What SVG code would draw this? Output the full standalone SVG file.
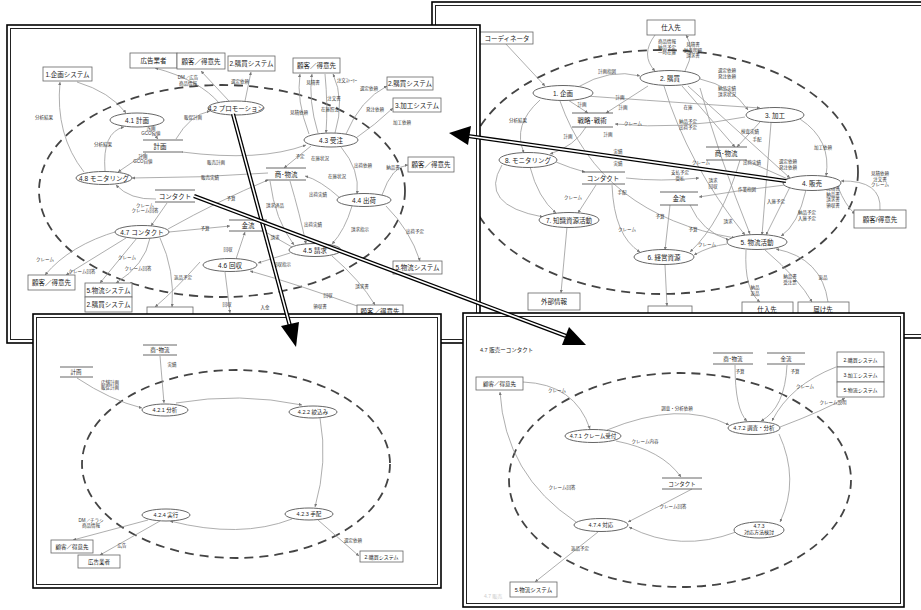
<svg xmlns="http://www.w3.org/2000/svg" width="921" height="610" viewBox="0 0 921 610">
<defs>
<style>
.fr{fill:#fff;stroke:#000;stroke-width:1.6}
.fi{fill:none;stroke:#222;stroke-width:1}
.dash{fill:none;stroke:#444;stroke-width:1.8;stroke-dasharray:9 6}
.c{fill:none;stroke:#999;stroke-width:0.8;marker-end:url(#a)}
.n{fill:#fff;stroke:#666;stroke-width:1}
.b{fill:#fff;stroke:#666;stroke-width:0.8}
.st{stroke:#555;stroke-width:0.9}
text{font-family:"Liberation Sans","Noto Sans CJK JP",sans-serif;fill:#222}
.t{font-size:6.5px;text-anchor:middle}
.s{font-size:4.5px;text-anchor:middle;fill:#333}
.big{fill:none;stroke:#000;stroke-width:4.2}
.bigw{fill:none;stroke:#fff;stroke-width:1.6}
</style>
<marker id="a" viewBox="0 0 6 6" refX="6" refY="3" markerWidth="4" markerHeight="4" orient="auto"><path d="M0,0L6,3L0,6z" fill="#777"/></marker>
</defs>

<!-- ===== Top-right panel ===== -->
<g id="panel-tr">
<rect class="fr" x="432" y="2" width="495" height="336"/>
<rect class="fi" x="435.5" y="5.5" width="488" height="329"/>
<ellipse class="dash" cx="662" cy="172" rx="196" ry="122"/>
</g>
<g id="tr-connectors">
<path class="c" d="M505,43 L545,86"/>
<path class="c" d="M578,87 Q610,68 640,76"/>
<path class="c" d="M568,100 L588,113"/>
<path class="c" d="M648,86 L606,113"/>
<path class="c" d="M745,117 Q680,130 615,124"/>
<path class="c" d="M540,100 Q512,125 524,153"/>
<path class="c" d="M586,127 Q575,146 550,154"/>
<path class="c" d="M502,165 Q478,205 543,217"/>
<path class="c" d="M530,167 Q538,198 556,213"/>
<path class="c" d="M556,162 Q570,168 585,172"/>
<path class="c" d="M596,185 L578,213"/>
<path class="c" d="M612,185 Q614,236 640,252"/>
<path class="c" d="M567,227 L561,293"/>
<path class="c" d="M655,35 Q640,55 655,71"/>
<path class="c" d="M685,71 Q696,50 686,35"/>
<path class="c" d="M700,79 Q732,86 748,110"/>
<path class="c" d="M682,86 L735,147"/>
<path class="c" d="M688,86 L790,178"/>
<path class="c" d="M664,86 Q688,165 745,235"/>
<path class="c" d="M560,101 Q600,215 735,238"/>
<path class="c" d="M545,93 Q640,100 760,108"/>
<path class="c" d="M760,122 L737,147"/>
<path class="c" d="M800,119 Q832,140 826,176"/>
<path class="c" d="M771,123 L762,235"/>
<path class="c" d="M745,160 L790,180"/>
<path class="c" d="M838,187 Q845,205 855,214"/>
<path class="c" d="M880,210 Q882,180 841,181"/>
<path class="c" d="M806,190 Q798,225 781,236"/>
<path class="c" d="M790,187 L766,235"/>
<path class="c" d="M785,185 Q740,190 699,197"/>
<path class="c" d="M670,205 L665,250"/>
<path class="c" d="M690,205 Q702,232 729,240"/>
<path class="c" d="M746,250 Q744,290 760,302"/>
<path class="c" d="M765,250 Q800,280 812,302"/>
<path class="c" d="M828,302 Q822,258 776,249"/>
<path class="c" d="M665,265 L667,306"/>
<path class="c" d="M727,244 Q710,246 694,255"/>
<path class="c" d="M740,160 Q722,222 690,252"/>
<path class="c" d="M626,178 Q660,182 699,178"/>
<path class="c" d="M700,88 Q720,160 750,234"/>
</g>
<g id="tr-labels">
<text class="s" x="607" y="73">計画指図</text>
<text class="s" x="582" y="106">計画</text>
<text class="s" x="620" y="99">計画</text>
<text class="s" x="623" y="109">計画</text>
<text class="s" x="633" y="125">クレーム</text>
<text class="s" x="608" y="136">計画</text>
<text class="s" x="518" y="122">分析結果</text>
<text class="s" x="568" y="138">計画</text>
<text class="s" x="618" y="153">実績</text>
<text class="s" x="618" y="165">実績</text>
<text class="s" x="573" y="199">クレーム</text>
<text class="s" x="622" y="194">手配</text>
<text class="s" x="627" y="231">クレーム</text>
<text class="s" x="667" y="43"><tspan x="667">商品情報</tspan><tspan x="667" dy="5.5">納品予定</tspan><tspan x="667" dy="5.5">一時在庫</tspan></text>
<text class="s" x="693" y="46"><tspan x="693">見積書</tspan><tspan x="693" dy="5.5">納品明細</tspan><tspan x="693" dy="5.5">請求書</tspan></text>
<text class="s" x="727" y="72"><tspan x="727">選定依頼</tspan><tspan x="727" dy="6">発注依頼</tspan></text>
<text class="s" x="727" y="90"><tspan x="727">納品実績</tspan><tspan x="727" dy="6">請求状況</tspan></text>
<text class="s" x="688" y="109">在庫</text>
<text class="s" x="688" y="123"><tspan x="688">納品予定</tspan><tspan x="688" dy="6">出荷予定</tspan></text>
<text class="s" x="750" y="133">検査実績</text>
<text class="s" x="757" y="141">手配</text>
<text class="s" x="823" y="149">加工依頼</text>
<text class="s" x="701" y="164">クレーム</text>
<text class="s" x="752" y="164">出荷実績</text>
<text class="s" x="788" y="163"><tspan x="788">選定依頼</tspan><tspan x="788" dy="5.5">発注依頼</tspan></text>
<text class="s" x="680" y="174"><tspan x="680">支払予定</tspan><tspan x="680" dy="5.5">受払</tspan></text>
<text class="s" x="713" y="182"><tspan x="713">請求</tspan><tspan x="713" dy="5.5">回収</tspan></text>
<text class="s" x="747" y="191">作業指図</text>
<text class="s" x="776" y="203">入庫予定</text>
<text class="s" x="660" y="218">予算</text>
<text class="s" x="728" y="223">請求</text>
<text class="s" x="693" y="231">予算</text>
<text class="s" x="707" y="246">クレーム</text>
<text class="s" x="807" y="214"><tspan x="807">納品予定</tspan><tspan x="807" dy="5.5">入庫予定</tspan></text>
<text class="s" x="880" y="175"><tspan x="880">見積依頼</tspan><tspan x="880" dy="5.5">注文書</tspan><tspan x="880" dy="5.5">クレーム</tspan></text>
<text class="s" x="833" y="190"><tspan x="833">見積書</tspan><tspan x="833" dy="5.5">納品書</tspan><tspan x="833" dy="5.5">請求書</tspan><tspan x="833" dy="5.5">領収書</tspan></text>
<text class="s" x="755" y="289"><tspan x="755">納品</tspan><tspan x="755" dy="5.5">返品</tspan></text>
<text class="s" x="790" y="278"><tspan x="790">納品書</tspan><tspan x="790" dy="5.5">受注票</tspan></text>
<text class="s" x="823" y="279">返品</text>
</g>
<g id="tr-coordinator"><rect class="b" x="466" y="32" width="67" height="12"/><text class="t" x="507" y="40.5">コーディネータ</text></g>
<g id="tr-supplier-top"><rect class="b" x="647" y="20" width="48" height="15"/><text class="t" x="671" y="30">仕入先</text></g>
<g id="tr-n1"><ellipse class="n" cx="563" cy="93" rx="30" ry="7.5"/><text class="t" x="563" y="95.5">1. 企画</text></g>
<g id="tr-n2"><ellipse class="n" cx="670" cy="78" rx="30" ry="7.5"/><text class="t" x="670" y="80.5">2. 購買</text></g>
<g id="tr-n3"><ellipse class="n" cx="775" cy="115" rx="29" ry="7.5"/><text class="t" x="775" y="117.5">3. 加工</text></g>
<g id="tr-n4"><ellipse class="n" cx="812" cy="183" rx="29" ry="7.5"/><text class="t" x="812" y="185.5">4. 販売</text></g>
<g id="tr-n5"><ellipse class="n" cx="757" cy="242" rx="30" ry="7.5"/><text class="t" x="757" y="244.5">5. 物流活動</text></g>
<g id="tr-n6"><ellipse class="n" cx="664" cy="257" rx="30" ry="7.5"/><text class="t" x="664" y="259.5">6. 経営資源</text></g>
<g id="tr-n7"><ellipse class="n" cx="569" cy="220" rx="30" ry="7.5"/><text class="t" x="569" y="222.5">7. 知識資源活動</text></g>
<g id="tr-n8"><ellipse class="n" cx="528" cy="160" rx="29" ry="7.5"/><text class="t" x="528" y="162.5">8. モニタリング</text></g>
<g id="tr-ds-strategy"><line class="st" x1="572" y1="113" x2="613" y2="113"/><line class="st" x1="572" y1="127" x2="613" y2="127"/><text class="t" x="592" y="122.5">戦略･戦術</text></g>
<g id="tr-ds-contact"><line class="st" x1="582" y1="172" x2="625" y2="172"/><line class="st" x1="582" y1="184" x2="625" y2="184"/><text class="t" x="603" y="180.5">コンタクト</text></g>
<g id="tr-ds-goods"><line class="st" x1="706" y1="147" x2="747" y2="147"/><line class="st" x1="706" y1="160" x2="747" y2="160"/><text class="t" x="726" y="156">商･物流</text></g>
<g id="tr-ds-money"><line class="st" x1="660" y1="192" x2="698" y2="192"/><line class="st" x1="660" y1="205" x2="698" y2="205"/><text class="t" x="679" y="201">金流</text></g>
<g id="tr-external"><rect class="b" x="528" y="293" width="52" height="17"/><text class="t" x="554" y="304">外部情報</text></g>
<g id="tr-box-b"><rect class="b" x="648" y="306" width="44" height="14"/></g>
<g id="tr-supplier-bottom"><rect class="b" x="742" y="302" width="51" height="15"/><text class="t" x="767" y="312">仕入先</text></g>
<g id="tr-delivery"><rect class="b" x="798" y="302" width="51" height="15"/><text class="t" x="823" y="312">届け先</text></g>
<g id="tr-customer"><rect class="b" x="854" y="210" width="52" height="18"/><text class="t" x="880" y="221.5">顧客/得意先</text></g>

<!-- ===== Top-left panel ===== -->
<g id="panel-tl">
<rect class="fr" x="7" y="25" width="473" height="318"/>
<rect class="fi" x="10.5" y="28.5" width="466" height="311"/>
<ellipse class="dash" cx="222" cy="191" rx="183" ry="106"/>
</g>
<g id="tl-connectors">
<path class="c" d="M77,82 Q110,92 126,113"/>
<path class="c" d="M84,172 Q55,135 60,82"/>
<path class="c" d="M105,171 Q102,132 124,127"/>
<path class="c" d="M148,127 L158,139"/>
<path class="c" d="M146,153 L118,172"/>
<path class="c" d="M176,139 Q190,115 210,111"/>
<path class="c" d="M182,152 Q260,162 306,145"/>
<path class="c" d="M220,104 Q200,80 155,68"/>
<path class="c" d="M229,101 L201,71"/>
<path class="c" d="M245,101 L251,72"/>
<path class="c" d="M309,134 Q296,100 300,74"/>
<path class="c" d="M318,133 Q308,100 312,74"/>
<path class="c" d="M325,74 Q328,105 326,133"/>
<path class="c" d="M335,133 Q345,100 333,74"/>
<path class="c" d="M346,134 Q360,100 387,86"/>
<path class="c" d="M356,138 Q375,125 393,108"/>
<path class="c" d="M311,146 L284,168"/>
<path class="c" d="M341,147 Q360,170 357,194"/>
<path class="c" d="M382,195 Q392,166 408,165"/>
<path class="c" d="M386,206 Q410,230 420,261"/>
<path class="c" d="M340,198 Q320,180 305,176"/>
<path class="c" d="M290,181 Q300,215 306,244"/>
<path class="c" d="M270,181 Q275,220 294,245"/>
<path class="c" d="M352,206 Q345,230 332,244"/>
<path class="c" d="M292,247 L262,230"/>
<path class="c" d="M290,253 L258,263"/>
<path class="c" d="M332,256 Q360,280 375,305"/>
<path class="c" d="M360,307 Q300,285 250,271"/>
<path class="c" d="M236,259 L245,232"/>
<path class="c" d="M225,272 Q228,295 230,313"/>
<path class="c" d="M168,229 Q220,200 268,180"/>
<path class="c" d="M268,173 Q200,178 132,178"/>
<path class="c" d="M156,199 Q130,200 116,185"/>
<path class="c" d="M167,203 L151,226"/>
<path class="c" d="M118,231 Q70,245 45,275"/>
<path class="c" d="M126,238 L66,275"/>
<path class="c" d="M137,238 L100,283"/>
<path class="c" d="M150,238 Q145,265 116,283"/>
<path class="c" d="M160,238 Q175,270 172,307"/>
<path class="c" d="M169,232 L230,226"/>
<path class="c" d="M200,262 Q175,290 155,307"/>
</g>
<g id="tl-labels">
<text class="s" x="44" y="119">分析結果</text>
<text class="s" x="103" y="146">分析結果</text>
<text class="s" x="151" y="130"><tspan x="151">計画</tspan><tspan x="151" dy="5">GCO自値</tspan></text>
<text class="s" x="143" y="158"><tspan x="143">計画</tspan><tspan x="143" dy="5">GCO自値</tspan></text>
<text class="s" x="188" y="79"><tspan x="188">DM／広告</tspan><tspan x="188" dy="5.5">商品情報</tspan></text>
<text class="s" x="240" y="83">選定依頼</text>
<text class="s" x="193" y="119">販促計画</text>
<text class="s" x="216" y="164">販売計画</text>
<text class="s" x="210" y="179">販売実績</text>
<text class="s" x="313" y="84">見積書</text>
<text class="s" x="347" y="82">注文ｽﾄｰﾘｰ</text>
<text class="s" x="334" y="100">注文書</text>
<text class="s" x="330" y="111">在庫照会</text>
<text class="s" x="299" y="114">見積依頼</text>
<text class="s" x="369" y="90">選定依頼</text>
<text class="s" x="375" y="111">発注依頼</text>
<text class="s" x="402" y="124">加工依頼</text>
<text class="s" x="300" y="158">予定</text>
<text class="s" x="320" y="160">在庫状況</text>
<text class="s" x="363" y="167">出荷依頼</text>
<text class="s" x="393" y="169">納品書</text>
<text class="s" x="337" y="178">在庫状況</text>
<text class="s" x="318" y="196">出荷実績</text>
<text class="s" x="275" y="207">請求済品</text>
<text class="s" x="313" y="226">出荷実績</text>
<text class="s" x="360" y="231">請求指示</text>
<text class="s" x="415" y="233">出荷予定</text>
<text class="s" x="275" y="239">請求</text>
<text class="s" x="282" y="266">回収指示</text>
<text class="s" x="362" y="288">請求書</text>
<text class="s" x="328" y="297">回収</text>
<text class="s" x="320" y="308">領収書</text>
<text class="s" x="265" y="309">入金</text>
<text class="s" x="145" y="207"><tspan x="145">クレーム</tspan><tspan x="145" dy="5">クレーム回答</tspan></text>
<text class="s" x="205" y="230">予算</text>
<text class="s" x="231" y="200">予算</text>
<text class="s" x="228" y="251">回収</text>
<text class="s" x="45" y="261">クレーム</text>
<text class="s" x="127" y="259">クレーム</text>
<text class="s" x="82" y="273">クレーム回答</text>
<text class="s" x="138" y="270">クレーム回答</text>
<text class="s" x="183" y="279">返品予定</text>
<text class="s" x="227" y="306">回収</text>
</g>
<g id="tl-plan-sys"><rect class="b" x="43" y="67" width="49" height="14"/><text class="t" x="67.5" y="76.5">1.企画システム</text></g>
<g id="tl-ad"><rect class="b" x="130" y="53" width="47" height="15"/><text class="t" x="153.5" y="63">広告業者</text></g>
<g id="tl-cust1"><rect class="b" x="177" y="53" width="48" height="16"/><text class="t" x="201" y="63.5">顧客／得意先</text></g>
<g id="tl-purch1"><rect class="b" x="228" y="56" width="47" height="15"/><text class="t" x="251.5" y="66">2.購買システム</text></g>
<g id="tl-cust2"><rect class="b" x="293" y="58" width="47" height="15"/><text class="t" x="316.5" y="68">顧客／得意先</text></g>
<g id="tl-purch2"><rect class="b" x="387" y="77" width="46" height="13"/><text class="t" x="410" y="86">2.購買システム</text></g>
<g id="tl-proc"><rect class="b" x="393" y="98" width="48" height="14"/><text class="t" x="417" y="107.5">3.加工システム</text></g>
<g id="tl-cust3"><rect class="b" x="408" y="157" width="46" height="15"/><text class="t" x="431" y="167">顧客／得意先</text></g>
<g id="tl-logi"><rect class="b" x="393" y="261" width="49" height="13"/><text class="t" x="417.5" y="270">5.物流システム</text></g>
<g id="tl-cust4"><rect class="b" x="28" y="275" width="47" height="15"/><text class="t" x="51.5" y="285">顧客／得意先</text></g>
<g id="tl-logi2"><rect class="b" x="85" y="283" width="47" height="14"/><text class="t" x="108.5" y="292.5">5.物流システム</text></g>
<g id="tl-purch3"><rect class="b" x="85" y="297" width="47" height="15"/><text class="t" x="108.5" y="307">2.購買システム</text></g>
<g id="tl-box-b1"><rect class="b" x="147" y="307" width="46" height="12"/></g>
<g id="tl-box-b2"><rect class="b" x="357" y="305" width="46" height="12"/><text class="t" x="380" y="314">顧客／得意先</text></g>
<g id="tl-n41"><ellipse class="n" cx="137" cy="120" rx="27" ry="7"/><text class="t" x="137" y="122.5">4.1 計画</text></g>
<g id="tl-n42"><ellipse class="n" cx="236" cy="108" rx="28" ry="7"/><text class="t" x="236" y="110.5">4.2 プロモーション</text></g>
<g id="tl-n43"><ellipse class="n" cx="331" cy="140" rx="27" ry="7"/><text class="t" x="331" y="142.5">4.3 受注</text></g>
<g id="tl-n44"><ellipse class="n" cx="364" cy="200" rx="27" ry="6.5"/><text class="t" x="364" y="202.5">4.4 出荷</text></g>
<g id="tl-n45"><ellipse class="n" cx="315" cy="250" rx="26" ry="6.5"/><text class="t" x="315" y="252.5">4.5 請求</text></g>
<g id="tl-n46"><ellipse class="n" cx="230" cy="265" rx="27" ry="6.5"/><text class="t" x="230" y="267.5">4.6 回収</text></g>
<g id="tl-n47"><ellipse class="n" cx="142" cy="232" rx="27" ry="6.5"/><text class="t" x="142" y="234.5">4.7 コンタクト</text></g>
<g id="tl-n48"><ellipse class="n" cx="104" cy="178" rx="28" ry="6.5"/><text class="t" x="104" y="180.5">4.8 モニタリング</text></g>
<g id="tl-ds-plan"><line class="st" x1="143" y1="140" x2="183" y2="140"/><line class="st" x1="143" y1="152" x2="183" y2="152"/><text class="t" x="160" y="149">計画</text></g>
<g id="tl-ds-contact"><line class="st" x1="155" y1="190" x2="195" y2="190"/><line class="st" x1="155" y1="202" x2="195" y2="202"/><text class="t" x="175" y="198.5">コンタクト</text></g>
<g id="tl-ds-goods"><line class="st" x1="266" y1="168" x2="306" y2="168"/><line class="st" x1="266" y1="180" x2="306" y2="180"/><text class="t" x="286" y="176.5">商･物流</text></g>
<g id="tl-ds-money"><line class="st" x1="229" y1="220" x2="267" y2="220"/><line class="st" x1="229" y1="231" x2="267" y2="231"/><text class="t" x="248" y="228">金流</text></g>

<!-- ===== Bottom-left panel ===== -->
<g id="panel-bl">
<rect class="fr" x="33" y="314" width="408" height="274"/>
<rect class="fi" x="36.5" y="317.5" width="401" height="267"/>
<ellipse class="dash" cx="236" cy="464" rx="154" ry="94"/>
</g>
<g id="bl-connectors">
<path class="c" d="M176,403 Q240,392 302,405"/>
<path class="c" d="M320,418 Q328,462 315,507"/>
<path class="c" d="M292,519 Q240,539 170,521"/>
<path class="c" d="M77,378 Q110,400 142,408"/>
<path class="c" d="M160,356 L164,403"/>
<path class="c" d="M148,520 L73,540"/>
<path class="c" d="M160,521 L100,555"/>
<path class="c" d="M318,520 L359,556"/>
</g>
<g id="bl-labels">
<text class="s" x="110" y="384"><tspan x="110">店舗計画</tspan><tspan x="110" dy="5">販促計画</tspan></text>
<text class="s" x="172" y="366">実績</text>
<text class="s" x="91" y="522"><tspan x="91">DM／チラシ</tspan><tspan x="91" dy="5">商品情報</tspan></text>
<text class="s" x="122" y="547">広告</text>
<text class="s" x="353" y="542">選定依頼</text>
</g>
<g id="bl-n421"><ellipse class="n" cx="165" cy="410" rx="23" ry="6"/><text class="t" x="165" y="412.3" style="font-size:5.5px">4.2.1 分析</text></g>
<g id="bl-n422"><ellipse class="n" cx="313" cy="412" rx="24" ry="6"/><text class="t" x="313" y="414.3" style="font-size:5.5px">4.2.2 絞込み</text></g>
<g id="bl-n423"><ellipse class="n" cx="309" cy="514" rx="24" ry="6"/><text class="t" x="309" y="516.3" style="font-size:5.5px">4.2.3 手配</text></g>
<g id="bl-n424"><ellipse class="n" cx="166" cy="515" rx="24" ry="6"/><text class="t" x="166" y="517.3" style="font-size:5.5px">4.2.4 実行</text></g>
<g id="bl-ds-plan"><line class="st" x1="60" y1="367" x2="93" y2="367"/><line class="st" x1="60" y1="377" x2="93" y2="377"/><text class="t" x="76" y="374.3" style="font-size:5.5px">計画</text></g>
<g id="bl-ds-goods"><line class="st" x1="143" y1="345" x2="177" y2="345"/><line class="st" x1="143" y1="355" x2="177" y2="355"/><text class="t" x="160" y="352.3" style="font-size:5.5px">商･物流</text></g>
<g id="bl-cust"><rect class="b" x="51" y="540" width="42" height="13"/><text class="t" x="72" y="548.5" style="font-size:5.5px">顧客／得意先</text></g>
<g id="bl-ad"><rect class="b" x="78" y="555" width="42" height="13"/><text class="t" x="99" y="563.5" style="font-size:5.5px">広告業者</text></g>
<g id="bl-purch"><rect class="b" x="360" y="551" width="43" height="11"/><text class="t" x="381.5" y="558.5" style="font-size:5px">2.購買システム</text></g>

<!-- ===== Bottom-right panel ===== -->
<g id="panel-br">
<rect class="fr" x="463" y="313" width="441" height="294"/>
<rect class="fi" x="466.5" y="316.5" width="434" height="287"/>
<ellipse class="dash" cx="680" cy="480" rx="171" ry="107"/>
<text x="480" y="352" style="font-size:5.5px">4.7 販売ーコンタクト</text>
<text x="484" y="598" style="font-size:5px;fill:#ccc">4.7 販売</text>
</g>
<g id="br-connectors">
<path class="c" d="M523,382 Q575,384 590,429"/>
<path class="c" d="M576,522 Q505,475 500,392"/>
<path class="c" d="M607,430 Q680,400 729,425"/>
<path class="c" d="M616,441 Q662,450 681,477"/>
<path class="c" d="M692,489 Q660,506 628,522"/>
<path class="c" d="M736,532 Q680,553 629,527"/>
<path class="c" d="M779,434 Q800,480 780,522"/>
<path class="c" d="M735,365 Q735,410 747,421"/>
<path class="c" d="M787,365 Q785,408 761,421"/>
<path class="c" d="M836,367 Q790,385 772,421"/>
<path class="c" d="M780,427 Q825,410 845,398"/>
<path class="c" d="M598,532 L535,582"/>
</g>
<g id="br-labels">
<text class="s" x="557" y="392">クレーム</text>
<text class="s" x="677" y="410">調査・分析依頼</text>
<text class="s" x="645" y="443">クレーム内容</text>
<text class="s" x="562" y="489">クレーム回答</text>
<text class="s" x="673" y="508">クレーム回答</text>
<text class="s" x="580" y="550">返品予定</text>
<text class="s" x="740" y="373">予算</text>
<text class="s" x="795" y="373">予算</text>
<text class="s" x="805" y="388">クレーム</text>
<text class="s" x="833" y="404">クレーム説明</text>
</g>
<g id="br-cust"><rect class="b" x="476" y="377" width="47" height="13"/><text class="t" x="499.5" y="386" style="font-size:5.5px">顧客／得意先</text></g>
<g id="br-n471"><ellipse class="n" cx="593" cy="436" rx="28" ry="6.5"/><text class="t" x="593" y="438.3" style="font-size:5.5px">4.7.1 クレーム受付</text></g>
<g id="br-n472"><ellipse class="n" cx="754" cy="428" rx="26" ry="6.5"/><text class="t" x="754" y="430.3" style="font-size:5.5px">4.7.2 調査・分析</text></g>
<g id="br-n473"><ellipse class="n" cx="759" cy="530" rx="25" ry="8"/><text class="t" x="759" y="528" style="font-size:5px">4.7.3</text><text class="t" x="759" y="534" style="font-size:5px">対応方法検討</text></g>
<g id="br-n474"><ellipse class="n" cx="601" cy="525" rx="27" ry="6.5"/><text class="t" x="601" y="527.3" style="font-size:5.5px">4.7.4 対応</text></g>
<g id="br-ds-contact"><line class="st" x1="662" y1="478" x2="702" y2="478"/><line class="st" x1="662" y1="489" x2="702" y2="489"/><text class="t" x="682" y="486" style="font-size:5.5px">コンタクト</text></g>
<g id="br-ds-goods"><line class="st" x1="713" y1="353" x2="753" y2="353"/><line class="st" x1="713" y1="364" x2="753" y2="364"/><text class="t" x="733" y="361" style="font-size:5.5px">商･物流</text></g>
<g id="br-ds-money"><line class="st" x1="767" y1="353" x2="805" y2="353"/><line class="st" x1="767" y1="364" x2="805" y2="364"/><text class="t" x="786" y="361" style="font-size:5.5px">金流</text></g>
<g id="br-systems">
<rect class="b" x="837" y="352" width="47" height="15"/><text class="t" x="860.5" y="362" style="font-size:5px">2.購買システム</text>
<rect class="b" x="837" y="367" width="47" height="15"/><text class="t" x="860.5" y="377" style="font-size:5px">3.加工システム</text>
<rect class="b" x="837" y="382" width="47" height="15"/><text class="t" x="860.5" y="392" style="font-size:5px">5.物流システム</text>
</g>
<g id="br-logi"><rect class="b" x="510" y="582" width="47" height="15"/><text class="t" x="533.5" y="592" style="font-size:5.5px">5.物流システム</text></g>

<!-- ===== Big zoom arrows ===== -->
<g id="zoom-arrows">
<path class="big" d="M786,181 L468,136"/>
<path class="bigw" d="M786,181 L468,136"/>
<polygon points="449,133 471,126 468,145" fill="#000"/>
<path class="big" d="M233,114 L290,326"/>
<path class="bigw" d="M233,114 L290,326"/>
<polygon points="296,347 281,326 299,322" fill="#000"/>
<path class="big" d="M194,196 L566,336"/>
<path class="bigw" d="M194,196 L566,336"/>
<polygon points="586,345 562,345 569,327" fill="#000"/>
</g>
</svg>
